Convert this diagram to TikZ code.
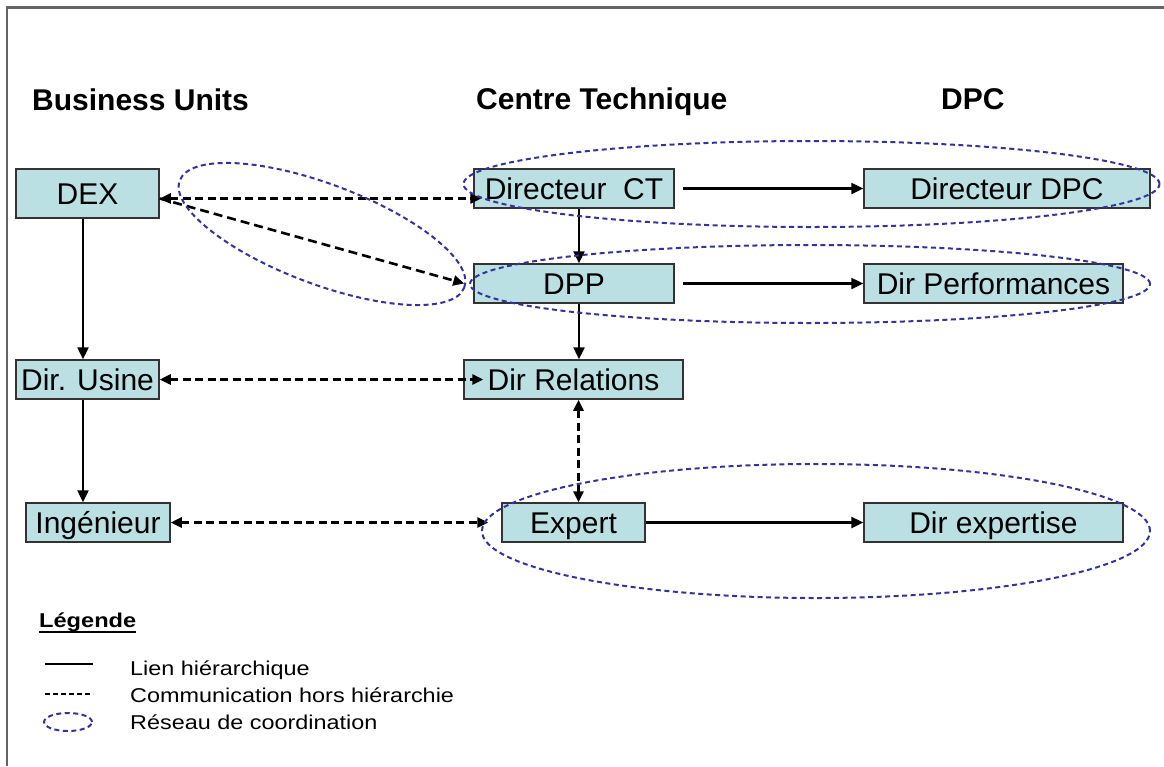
\documentclass[tikz,border=0pt]{standalone}
\usepackage{fontspec}
\setmainfont{Liberation Sans}
\usetikzlibrary{arrows.meta,shapes.geometric}
\definecolor{boxfill}{RGB}{186,224,228}
\definecolor{netblue}{RGB}{51,51,153}
\definecolor{framegray}{RGB}{100,100,100}
\begin{document}
\begin{tikzpicture}[x=1pt,y=-1pt,
  box/.style={draw=black!80, line width=1.5pt, fill=boxfill, inner sep=0pt,
    font=\fontsize{30}{36}\selectfont, text height=21.5pt, text depth=0pt},
  hier/.style={line width=2.4pt, -{Triangle[length=12pt,width=11pt]}},
  comm/.style={line width=2.6pt, dash pattern=on 8pt off 4.5pt,
    {Triangle[length=11pt,width=10pt]}-{Triangle[length=11pt,width=10pt]}},
  commone/.style={line width=2.6pt, dash pattern=on 9pt off 5pt,
    -{Triangle[length=11pt,width=10pt]}},
  net/.style={draw=netblue, line width=2pt, dash pattern=on 5pt off 3.5pt,
    ellipse, inner sep=0pt},
  head/.style={font=\fontsize{30}{36}\selectfont\bfseries, anchor=base west, inner sep=0pt},
  leg/.style={font=\fontsize{20}{24}\selectfont, anchor=base west, inner sep=0pt}]

\useasboundingbox (0,0) rectangle (1164,766);

% frame
\coordinate (fa) at (7,766);
\coordinate (fb) at (7,7.5);
\coordinate (fc) at (1164,7.5);
\draw[framegray, line width=2.5pt] (fa) -- (fb) -- (fc);

% headers
\node[head] (hbu) at (32,110) {Business Units};
\node[head] (hct) at (476,109) {Centre Technique};
\node[head] (hdpc) at (941,109) {DPC};

% boxes
\node[box, minimum width=143pt, minimum height=49pt] (dex) at (87.5,193.5) {DEX};
\node[box, minimum width=200pt, minimum height=39pt] (dct) at (574,188.5) {Directeur~~CT};
\node[box, minimum width=286pt, minimum height=39pt] (dpc) at (1007,188.5) {Directeur DPC};
\node[box, minimum width=200pt, minimum height=39pt] (dpp) at (574,283.5) {DPP};
\node[box, minimum width=259pt, minimum height=39pt] (perf) at (993.5,283.5) {Dir Performances};
\node[box, minimum width=143pt, minimum height=39pt] (usine) at (87.5,379.5) {Dir. Usine};
\node[box, minimum width=219pt, minimum height=39pt] (rel) at (573.5,379.5) {Dir Relations};
\node[box, minimum width=144pt, minimum height=39pt] (ing) at (98,522.5) {Ingénieur};
\node[box, minimum width=143pt, minimum height=39pt] (exp) at (573.5,522.5) {Expert};
\node[box, minimum width=259pt, minimum height=39pt] (dexp) at (993.5,522.5) {Dir expertise};

% hierarchical links
\draw[hier] ([xshift=-4.5pt]dex.south) -- ([xshift=-4.5pt]dex.south |- usine.north);
\draw[hier] ([xshift=-4.5pt]usine.south) -- ([xshift=-4.5pt]usine.south |- ing.north);
\draw[hier] ([xshift=5pt]dct.south) -- ([xshift=5pt]dpp.north);
\draw[hier] ([xshift=5pt]dpp.south) -- ([xshift=5pt]dpp.south |- rel.north);
\draw[hier] ([xshift=8pt]dct.east) -- (dpc.west);
\draw[hier] ([xshift=8pt]dpp.east) -- (perf.west);
\draw[hier] (exp.east) -- (dexp.west);

% communication links
\draw[comm] ([yshift=-5pt]dex.east) -- ([xshift=8pt,yshift=-10pt]dct.west);
\draw[commone] ([yshift=-5pt]dex.east) -- ([xshift=-9pt]dpp.west);
\draw[comm] (usine.east) -- ([xshift=20pt]rel.west);
\draw[comm] (ing.east) -- ([xshift=-13pt]exp.west);
\draw[comm] ([xshift=5pt]rel.south) -- ([xshift=5pt]rel.south |- exp.north);

% coordination networks
\node[net, minimum width=304pt, minimum height=100pt, rotate=-20.6] (n1) at (322,234) {};
\node[net, minimum width=696pt, minimum height=86pt] (n2) at (811.5,184) {};
\node[net, minimum width=680pt, minimum height=78pt] (n3) at (810,284) {};
\node[net, minimum width=668pt, minimum height=134pt] (n4) at (816,531) {};

% legend
\node[font=\fontsize{20}{24}\selectfont\bfseries, anchor=base west, inner sep=0pt] (legt) at (39,627) {\scalebox{1.18}[1]{Légende}};
\draw[line width=2pt] ([yshift=-5pt]legt.base west) -- ([yshift=-5pt]legt.base east);

\coordinate (l1a) at (45,664);
\coordinate (l1b) at (93,664);
\draw[line width=1.5pt] (l1a) -- (l1b);
\coordinate (l2a) at (45,694);
\coordinate (l2b) at (93,694);
\draw[line width=1.8pt, dash pattern=on 5pt off 3pt] (l2a) -- (l2b);
\node[net, minimum width=48pt, minimum height=18pt] (l3) at (68,722) {};

\node[leg] (lt1) at (130,675) {\scalebox{1.17}[1]{Lien hiérarchique}};
\node[leg] (lt2) at (130,702) {\scalebox{1.17}[1]{Communication hors hiérarchie}};
\node[leg] (lt3) at (130,729) {\scalebox{1.17}[1]{Réseau de coordination}};
\end{tikzpicture}
\end{document}
